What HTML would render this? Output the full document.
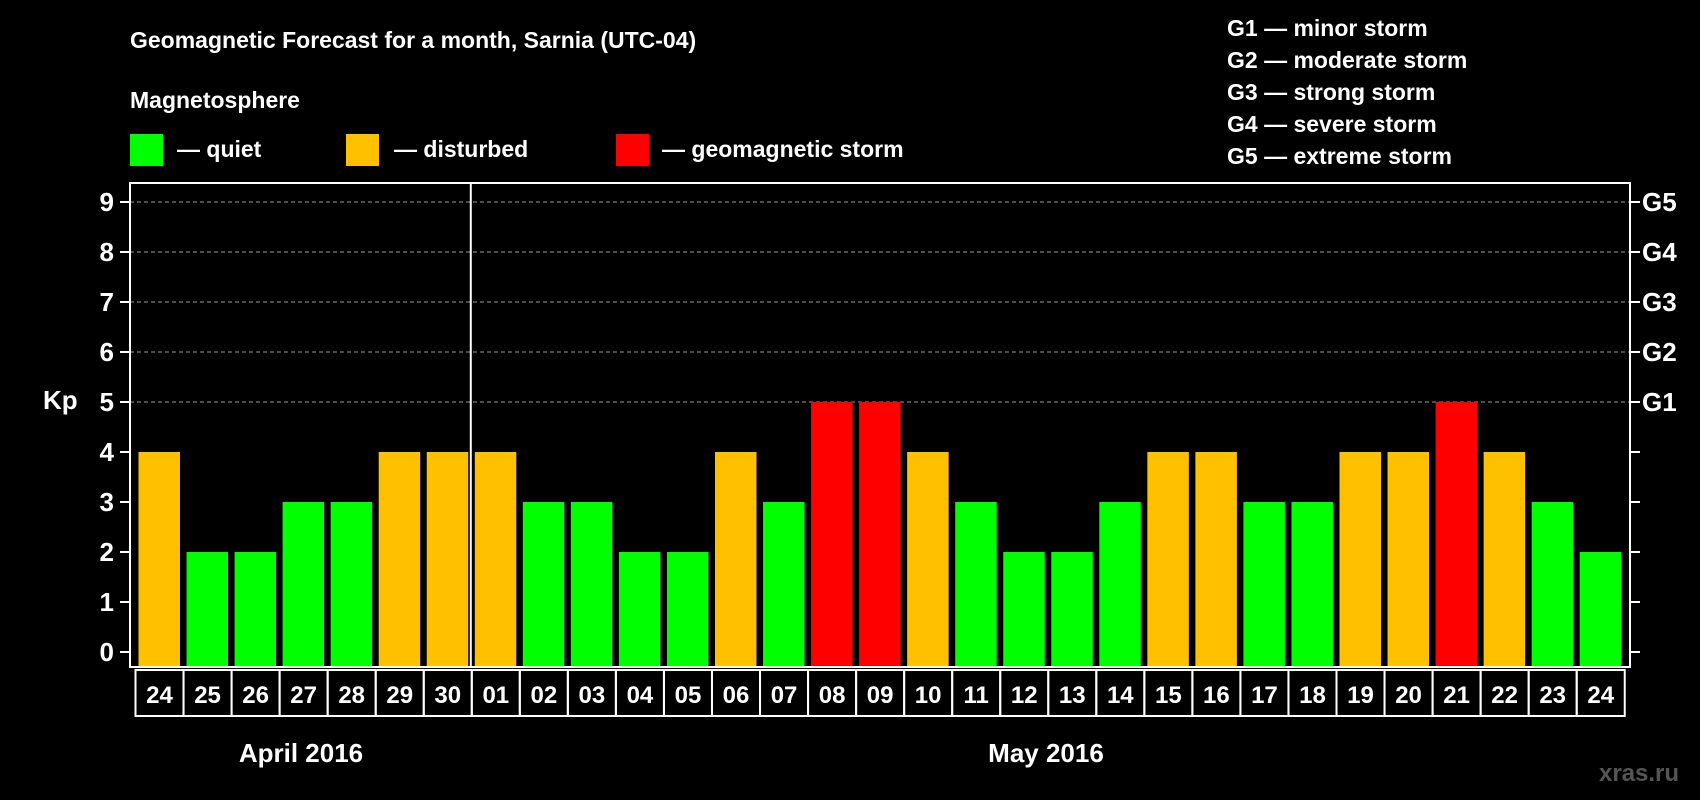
<!DOCTYPE html>
<html><head><meta charset="utf-8"><style>
body{margin:0;background:#000;}
svg{display:block;font-family:"Liberation Sans",Arial,sans-serif;font-weight:bold;}
</style></head><body>
<svg id="c" width="1700" height="800" viewBox="0 0 1700 800">
<rect width="1700" height="800" fill="#000"/>
<text x="130" y="48" fill="#fff" font-size="23">Geomagnetic Forecast for a month, Sarnia (UTC-04)</text>
<text x="130" y="108" fill="#fff" font-size="23">Magnetosphere</text>
<g><rect x="130" y="134" width="33" height="32" fill="#00ff00"/><text x="177" y="157" fill="#fff" font-size="23">— quiet</text></g>
<g><rect x="346" y="134" width="33" height="32" fill="#ffc000"/><text x="394" y="157" fill="#fff" font-size="23">— disturbed</text></g>
<g><rect x="616" y="134" width="33" height="32" fill="#ff0000"/><text x="662" y="157" fill="#fff" font-size="23">— geomagnetic storm</text></g>
<g fill="#fff" font-size="23">
<text x="1227" y="36">G1 — minor storm</text>
<text x="1227" y="68">G2 — moderate storm</text>
<text x="1227" y="100">G3 — strong storm</text>
<text x="1227" y="132">G4 — severe storm</text>
<text x="1227" y="164">G5 — extreme storm</text>
</g>
<text x="43" y="409" fill="#fff" font-size="26">Kp</text>
<text x="1599" y="781" fill="#555" font-size="24">xras.ru</text>
<g id="plot"></g>
</svg>
<script>
const days=["24","25","26","27","28","29","30","01","02","03","04","05","06","07","08","09","10","11","12","13","14","15","16","17","18","19","20","21","22","23","24"];
const kp=[4,2,2,3,3,4,4,4,3,3,2,2,4,3,5,5,4,3,2,2,3,4,4,3,3,4,4,5,4,3,2];
const yTicks=[0,1,2,3,4,5,6,7,8,9];
const gLabels=["G1","G2","G3","G4","G5"];
const NS="http://www.w3.org/2000/svg";
const g=document.getElementById('plot');
const PL=130,PR=1630,PT=183,PB=667,X0=135.5,SW=48.04;
const y=v=>652-v*50;
const x=i=>X0+i*SW;
function mk(t,a,p){const e=document.createElementNS(NS,t);for(const k in a)e.setAttribute(k,a[k]);(p||g).appendChild(e);return e;}
yTicks.forEach(v=>{
  if(v>=5){const l=mk('line',{x1:PL,x2:PR,y1:y(v),y2:y(v),stroke:'#999','stroke-dasharray':'4,3','stroke-width':1});
  
  }
  mk('line',{x1:PL-10,x2:PL,y1:y(v),y2:y(v),stroke:'#fff','stroke-width':2});
  mk('line',{x1:PR,x2:PR+10,y1:y(v),y2:y(v),stroke:'#fff','stroke-width':2});
  const t=mk('text',{x:114,y:y(v)+9,fill:'#fff','font-size':26,'text-anchor':'end'});t.textContent=v;
  
  
});
gLabels.forEach((s,i)=>{const t=mk('text',{x:1642,y:y(5+i)+9,fill:'#fff','font-size':26});t.textContent=s;
  
  });
kp.forEach((v,i)=>{
  const c=v>=5?'#ff0000':v>=4?'#ffc000':'#00ff00';
  const r=mk('rect',{x:x(i)+3,y:y(v),width:41.5,height:PB-y(v)-1,fill:c});
  
  
  mk('rect',{x:x(i),y:670,width:SW,height:46,fill:'none',stroke:'#fff','stroke-width':2});
  const t=mk('text',{x:x(i)+SW/2,y:703,fill:'#fff','font-size':24,'text-anchor':'middle'});t.textContent=days[i];
  
  
});
mk('rect',{x:PL,y:PT,width:PR-PL,height:PB-PT,fill:'none',stroke:'#fff','stroke-width':2});
mk('line',{x1:x(7)-1,x2:x(7)-1,y1:PT,y2:PB,stroke:'#fff','stroke-width':2});
const a=mk('text',{x:301,y:762,fill:'#fff','font-size':26,'text-anchor':'middle'});a.textContent='April 2016';


const m=mk('text',{x:1046,y:762,fill:'#fff','font-size':26,'text-anchor':'middle'});m.textContent='May 2016';


</script>
</body></html>
